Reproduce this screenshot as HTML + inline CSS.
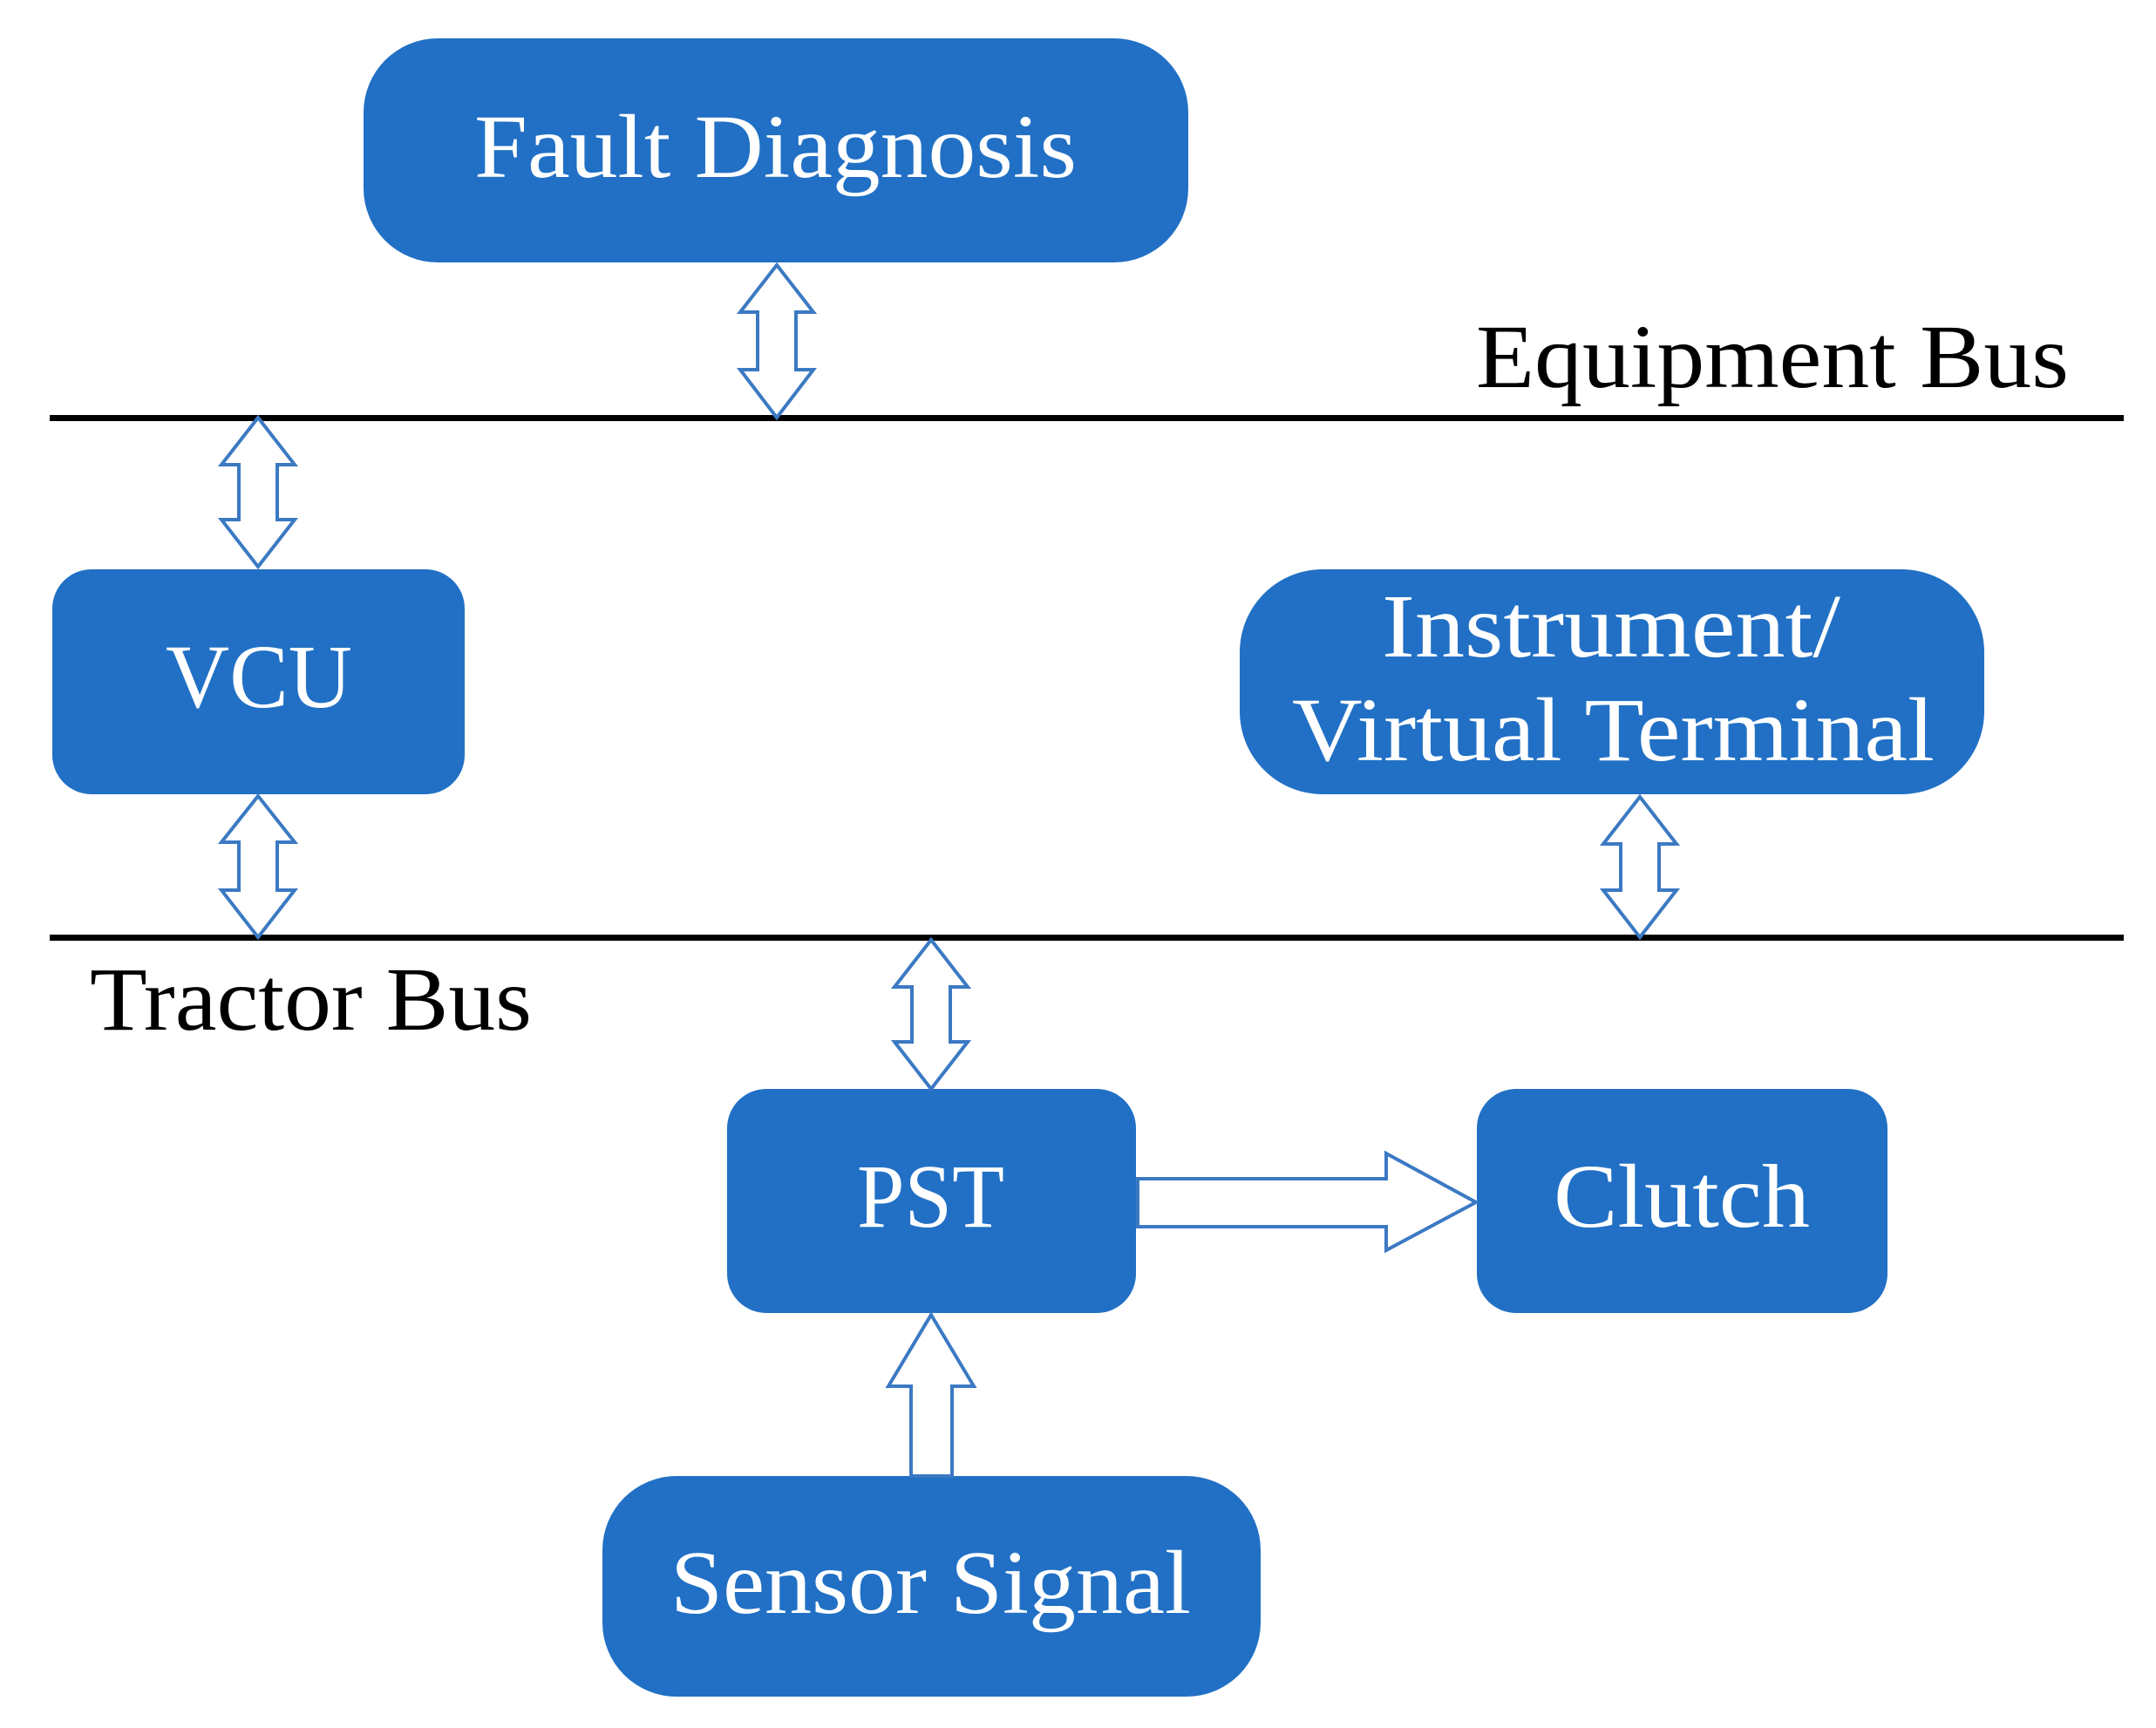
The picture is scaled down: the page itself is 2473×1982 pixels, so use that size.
<!DOCTYPE html>
<html><head><meta charset="utf-8"><style>
html,body{margin:0;padding:0;background:#fff;}
svg{display:block;}
text{font-family:"Liberation Serif",serif;}
</style></head><body>
<svg width="2473" height="1982" viewBox="0 0 2473 1982" xmlns="http://www.w3.org/2000/svg">
<rect width="2473" height="1982" fill="#fff"/>
<!-- bus lines -->
<rect x="57" y="476" width="2379" height="7" fill="#000"/>
<rect x="57" y="1072" width="2379" height="7" fill="#000"/>
<!-- boxes -->
<g fill="#2170c5">
<rect x="417" y="44" width="946" height="257" rx="85"/>
<rect x="60" y="653" width="473" height="258" rx="45"/>
<rect x="1422" y="653" width="854" height="258" rx="95"/>
<rect x="834" y="1249" width="469" height="257" rx="45"/>
<rect x="1694" y="1249" width="471" height="257" rx="45"/>
<rect x="691" y="1693" width="755" height="253" rx="85"/>
</g>
<!-- arrows -->
<g fill="#fff" stroke="#3b79c3" stroke-width="4" stroke-linejoin="miter">
<!-- FD to equip bus -->
<polygon points="891,304 933,358 913,358 913,424 933,424 891,479 849,424 869,424 869,358 849,358"/>
<!-- VCU top -->
<polygon points="296,479 338,533 318,533 318,596 338,596 296,650 254,596 274,596 274,533 254,533"/>
<!-- VCU bottom -->
<polygon points="296,913 338,966 318,966 318,1021 338,1021 296,1075 254,1021 274,1021 274,966 254,966"/>
<!-- Instrument -->
<polygon points="1881,914 1923,968 1903,968 1903,1021 1923,1021 1881,1075 1839,1021 1859,1021 1859,968 1839,968"/>
<!-- PST top -->
<polygon points="1068,1078 1110,1132 1090,1132 1090,1195 1110,1195 1068,1249 1026,1195 1046,1195 1046,1132 1026,1132"/>
<!-- PST to Clutch -->
<polygon points="1305,1352 1590,1352 1590,1323 1693,1379 1590,1434 1590,1407 1305,1407"/>
<!-- Sensor up -->
<polygon points="1068,1508 1117,1590 1092,1590 1092,1693 1045,1693 1045,1590 1019,1590"/>
</g>
<!-- labels -->
<g fill="#fff" font-size="104">
<text x="544" y="203" textLength="691" lengthAdjust="spacingAndGlyphs">Fault Diagnosis</text>
<text x="190" y="811" textLength="214" lengthAdjust="spacingAndGlyphs">VCU</text>
<text x="1585" y="753" textLength="526" lengthAdjust="spacingAndGlyphs">Instrument/</text>
<text x="1482" y="872" textLength="737" lengthAdjust="spacingAndGlyphs">Virtual Terminal</text>
<text x="983" y="1407" textLength="169" lengthAdjust="spacingAndGlyphs">PST</text>
<text x="1782" y="1407" textLength="294" lengthAdjust="spacingAndGlyphs">Clutch</text>
<text x="769" y="1850" textLength="597" lengthAdjust="spacingAndGlyphs">Sensor Signal</text>
</g>
<g fill="#000" font-size="104">
<text x="1693" y="444" textLength="680" lengthAdjust="spacingAndGlyphs">Equipment Bus</text>
<text x="103" y="1181" textLength="507" lengthAdjust="spacingAndGlyphs">Tractor Bus</text>
</g>
</svg>
</body></html>
